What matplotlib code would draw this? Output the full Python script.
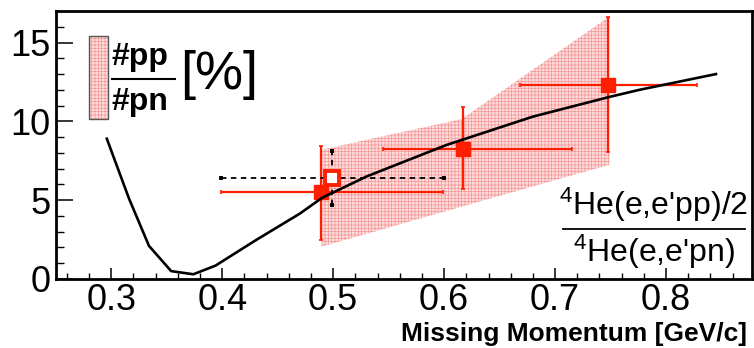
import numpy as np
import matplotlib
matplotlib.use('Agg')
from matplotlib import pyplot as plt
from matplotlib.patches import Rectangle
from matplotlib.lines import Line2D
from matplotlib.ticker import MultipleLocator

plt.rcParams['font.family'] = ['Liberation Sans', 'DejaVu Sans']
plt.rcParams['mathtext.fontset'] = 'custom'
plt.rcParams['mathtext.rm'] = 'Liberation Sans'
plt.rcParams['hatch.linewidth'] = 0.5

# theory curve  4He(e,e'pp)/2 / 4He(e,e'pn)
curve_p = [0.296, 0.316, 0.334, 0.354, 0.374, 0.394, 0.43, 0.470, 0.490,
           0.530, 0.602, 0.680, 0.749, 0.776, 0.845]
curve_r = [8.9, 5.1, 2.1, 0.5, 0.3, 0.85, 2.45, 4.15, 5.15,
           6.5, 8.5, 10.3, 11.55, 12.0, 13.0]

# measured #pp/#pn [%]
pts_p = [0.489, 0.617, 0.748]
pts_r = [5.5, 8.25, 12.3]
pts_xlo = [0.399, 0.545, 0.668]
pts_xhi = [0.599, 0.715, 0.828]
pts_ylo = [2.5, 5.7, 8.05]
pts_yhi = [8.45, 10.9, 16.6]

# open point
open_p = [0.499]
open_r = [6.4]
open_xlo = [0.399]
open_xhi = [0.600]
open_ylo = [4.7]
open_yhi = [8.15]

# shaded band
band_p = [0.4895, 0.616, 0.749]
band_lo = [2.05, 4.6, 7.25]
band_hi = [8.2, 10.15, 16.65]

red = '#ff1e00'
band_kwargs = {
    'facecolor': '#fddcdc',
    'edgecolor': '#f79595',
    'hatch': '+++++',
    'linewidth': 0
}

W, H = 754, 348
fig = plt.figure(figsize = (W / 100, H / 100), dpi = 100)
ax = fig.add_axes([56 / W, 1 - 279 / H, (751.5 - 56) / W, (279 - 11) / H])

ax.fill_between(band_p, band_lo, band_hi, zorder = 1, **band_kwargs)

pts_p = np.array(pts_p); pts_r = np.array(pts_r)
ax.errorbar(
    pts_p, pts_r,
    xerr = [pts_p - np.array(pts_xlo), np.array(pts_xhi) - pts_p],
    yerr = [pts_r - np.array(pts_ylo), np.array(pts_yhi) - pts_r],
    fmt = 's', color = red, ms = 10.5, elinewidth = 1.6,
    capsize = 1.5, capthick = 1.2, zorder = 3
)

open_p = np.array(open_p); open_r = np.array(open_r)
eb = ax.errorbar(
    open_p, open_r,
    xerr = [open_p - np.array(open_xlo), np.array(open_xhi) - open_p],
    yerr = [open_r - np.array(open_ylo), np.array(open_yhi) - open_r],
    fmt = 's', mfc = 'white', mec = red, mew = 2.8, ms = 10,
    ecolor = 'black', elinewidth = 1.3, capsize = 1.5, zorder = 4
)
for lc in eb[2]:
    lc.set_linestyle((0, (3, 2.5)))

ax.plot(curve_p, curve_r, color = 'black', linewidth = 1.9, zorder = 5)

ax.set_xlim(0.2502, 0.877)
ax.set_ylim(0, 17.0)

ax.xaxis.set_major_locator(MultipleLocator(0.1))
ax.xaxis.set_minor_locator(MultipleLocator(0.02))
ax.yaxis.set_major_locator(MultipleLocator(5))
ax.yaxis.set_minor_locator(MultipleLocator(1))

ax.tick_params(axis = 'x', which = 'major', direction = 'in', length = 8,
               width = 1.1, labelsize = 26, pad = 3)
ax.tick_params(axis = 'x', which = 'minor', direction = 'in', length = 4,
               width = 1.0)
ax.tick_params(axis = 'y', which = 'major', direction = 'in', length = 12,
               width = 1.1, labelsize = 26, pad = 4)
ax.tick_params(axis = 'y', which = 'minor', direction = 'in', length = 5.5,
               width = 1.0)
ax.set_xticklabels([f'{v:.1f}' for v in ax.get_xticks()])
ax.set_xlim(0.2502, 0.877)

for s in ax.spines.values():
    s.set_linewidth(2.0)

fig.text(747 / W, 1 - 341 / H, 'Missing Momentum [GeV/c]', ha = 'right',
         va = 'baseline', fontsize = 19, fontweight = 'bold')

# ratio label, lower right
fig.text(654 / W, 1 - 215 / H, r"$\mathregular{^4}$He(e,e'pp)/2", ha = 'center',
         va = 'baseline', fontsize = 23)
fig.add_artist(Line2D([563 / W, 745 / W], [1 - 229 / H, 1 - 229 / H],
                      transform = fig.transFigure, color = 'black', lw = 1.3))
fig.text(654 / W, 1 - 262 / H, r"$\mathregular{^4}$He(e,e'pn)", ha = 'center',
         va = 'baseline', fontsize = 23)

# legend box
fig.add_artist(Rectangle((89 / W, 1 - 119 / H), 19 / W, 83 / H,
                         transform = fig.transFigure, **band_kwargs))
fig.add_artist(Rectangle((89 / W, 1 - 119 / H), 19 / W, 83 / H,
                         transform = fig.transFigure, fill = False,
                         edgecolor = '#555555', linewidth = 1.0))
fig.text(111 / W, 1 - 65 / H, '#pp', ha = 'left', va = 'baseline',
         fontsize = 23, fontweight = 'bold')
fig.add_artist(Line2D([112 / W, 175 / W], [1 - 79 / H, 1 - 79 / H],
                      transform = fig.transFigure, color = 'black', lw = 1.5))
fig.text(111 / W, 1 - 110 / H, '#pn', ha = 'left', va = 'baseline',
         fontsize = 23, fontweight = 'bold')
fig.text(180 / W, 1 - 89 / H, '[%]', ha = 'left', va = 'baseline',
         fontsize = 39)

fig.savefig('out.png', dpi = 100)
